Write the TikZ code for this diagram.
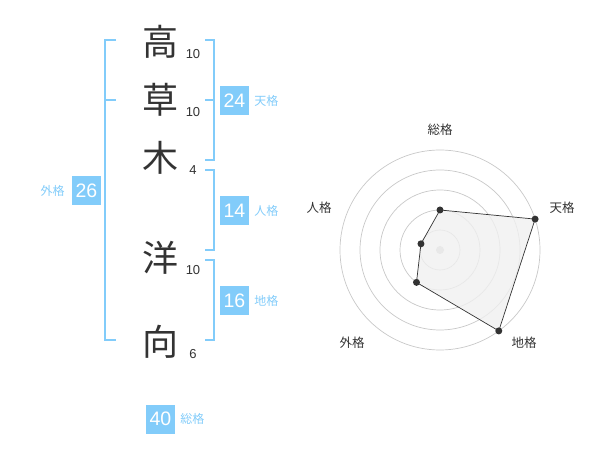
\documentclass[tikz,border=0pt]{standalone}
\usepackage{fontspec}
\setmainfont{Liberation Sans}
\newfontfamily\jp{Noto Sans CJK JP}
\usepackage{tikz}
\usetikzlibrary{positioning}
\definecolor{sora}{RGB}{130,204,250}
\definecolor{sumi}{RGB}{51,51,51}
\definecolor{ring}{RGB}{200,200,200}
\definecolor{usui}{RGB}{240,240,240}
\tikzset{
  moji/.style={inner sep=0pt,text=sumi,font=\jp\fontsize{36}{36}\selectfont},
  kakusu/.style={inner sep=0pt,text=sumi,font=\fontsize{13}{13}\selectfont},
  kakubox/.style={fill=sora,text=white,inner sep=0pt,minimum size=29pt,font=\fontsize{19.5}{20}\selectfont},
  kakulabel/.style={inner sep=0pt,text=sora,font=\jp\fontsize{12}{12}\selectfont},
  bracket/.style={draw=sora,line width=2pt},
  radarlabel/.style={inner sep=0pt,text=sumi,font=\jp\fontsize{12.5}{13}\selectfont},
  dot/.style={circle,fill=sumi,inner sep=0pt,minimum size=7pt},
}
\newcommand{\moji}[4]{\node[moji] (#1) at (160,#2) {#3};
  \node[kakusu] (#1n) at (193,#2+12) {#4};}
\newcommand{\kakko}[4]{\draw[bracket] (#2,#3) -- (#1,#3) -- (#1,#4) -- (#2,#4);}
\newcommand{\kakubox}[4]{\node[kakubox] (#1) at (#2,#3) {#4};}

\begin{document}
\begin{tikzpicture}[x=1pt,y=-1pt]
        \useasboundingbox (0,0) rectangle (600,470);
        % name
        \moji{taka}{42}{高}{10}
        \moji{kusa}{100}{草}{10}
        \moji{ki}{158}{木}{4}
        \moji{hiro}{258}{洋}{10}
        \moji{mukai}{342}{向}{6}

        % brackets
        \kakko{105}{116}{40}{340}
        \draw[bracket] (105,100) -- (116,100);
        \kakko{214}{205}{40}{160}
        \draw[bracket] (205,100) -- (214,100);
        \kakko{214}{205}{170}{250}
        \kakko{214}{205}{260}{340}

        % boxes
        \kakubox{ten}{234.5}{100.5}{24}
        \kakubox{jin}{234.5}{210.5}{14}
        \kakubox{chi}{234.5}{300.5}{16}
        \kakubox{gai}{86.5}{190.5}{26}
        \kakubox{sou}{160.5}{419}{40}
        \node[kakulabel,right=5pt of ten] (tenl) {天格};
        \node[kakulabel,right=5pt of jin] (jinl) {人格};
        \node[kakulabel,right=5pt of chi] (chil) {地格};
        \node[kakulabel,left=7pt of gai] (gail) {外格};
        \node[kakulabel,right=5pt of sou] (soul) {総格};

        % radar
        \begin{scope}[shift={(440,250)},yscale=-1]
          \foreach \r in {20,40,...,100}
            \draw[ring,line width=0.7pt] (0,0) circle (\r pt);
          \fill[ring] (0,0) circle (4pt);
          \coordinate (rs) at (90:40);
          \coordinate (rt) at (18:100);
          \coordinate (rc) at (-54:100);
          \coordinate (rg) at (-126:40);
          \coordinate (rj) at (162:20);
          \filldraw[fill=usui,fill opacity=0.8,draw=sumi,line width=0.7pt]
            (rs) -- (rt) -- (rc) -- (rg) -- (rj) -- cycle;
          \foreach \p in {rs,rt,rc,rg,rj}
            \node[dot] at (\p) {};
        \end{scope}
        \node[radarlabel] (ls) at (440,130) {総格};
        \node[radarlabel] (lt) at (562,208) {天格};
        \node[radarlabel] (lc) at (524,343) {地格};
        \node[radarlabel] (lg) at (352,343) {外格};
        \node[radarlabel] (lj) at (319,208) {人格};
\end{tikzpicture}
\end{document}
